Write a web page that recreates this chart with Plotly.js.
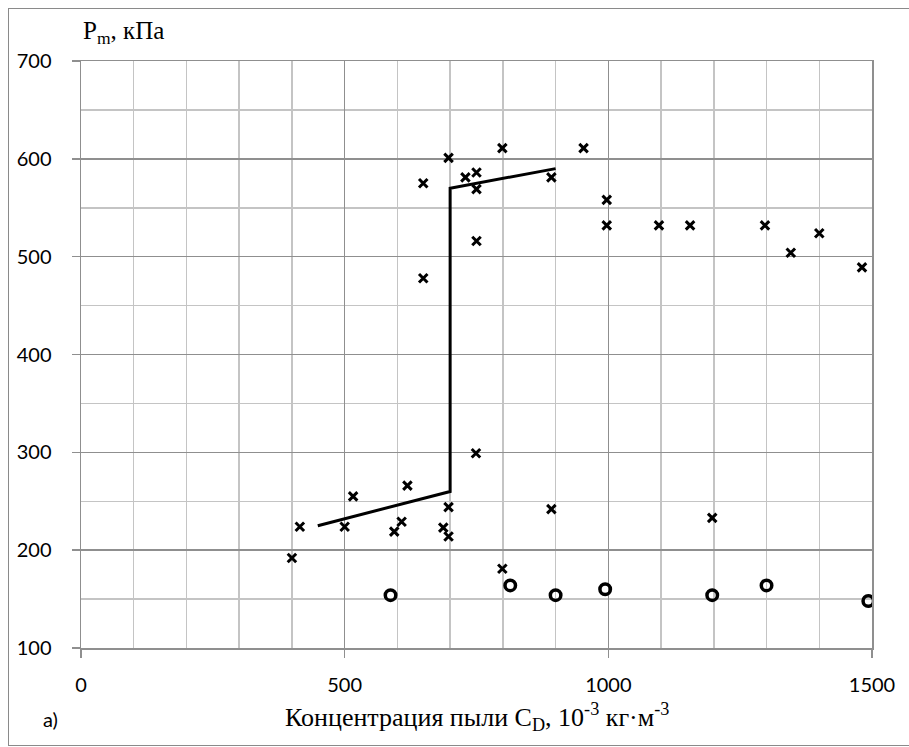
<!DOCTYPE html>
<html>
<head>
<meta charset="utf-8">
<script src="https://cdn.plot.ly/plotly-3.0.1.min.js"></script>
<style>
  html, body { margin: 0; padding: 0; background: #fff; }
  #wrap { position: relative; width: 909px; height: 747px; }
  #chart { position: absolute; left: 0; top: 0; width: 909px; height: 747px; }
  #frame { position: absolute; left: 8px; top: 8px; width: 902px; height: 738px; border: 1.5px solid #8a8a8a; box-sizing: border-box; pointer-events: none; }
</style>
</head>
<body>
<div id="wrap">
  <div id="chart"></div>
  <div id="frame"></div>
</div>
<script>
// Cross markers (experimental points)
var crossX = [400, 415, 500, 516, 594, 608, 619, 687, 697, 697, 749, 799, 892,
              649, 697, 729, 750, 750, 799, 892, 953, 750, 649,
              997, 997, 1096, 1155, 1297, 1346, 1400, 1481, 1197];
var crossY = [192, 224, 224, 255, 219, 229, 266, 223, 244, 214, 299, 181, 242,
              575, 601, 581, 586, 569, 611, 581, 611, 516, 478,
              558, 532, 532, 532, 532, 504, 524, 489, 233];
// Circle markers
var circleX = [587, 814, 900, 994, 1197, 1300, 1493];
var circleY = [154, 164, 154, 160, 154, 164, 148];
// Trend line
var lineX = [449, 700, 700, 900];
var lineY = [225, 260, 570, 590];

var xTicks = [0, 500, 1000, 1500];
var yTicks = [100, 200, 300, 400, 500, 600, 700];

var traces = [
  { x: lineX, y: lineY, mode: 'lines', type: 'scatter',
    line: { color: '#000', width: 3 }, hoverinfo: 'skip', showlegend: false },
  { x: crossX, y: crossY, mode: 'markers', type: 'scatter',
    marker: { symbol: 'x-thin', size: 8.5, color: '#000', line: { color: '#000', width: 3 } },
    showlegend: false },
  { x: circleX, y: circleY, mode: 'markers', type: 'scatter',
    marker: { symbol: 'circle-open', size: 10.5, color: '#000', line: { color: '#000', width: 3.5 } },
    showlegend: false }
];

var tickFont = { family: 'Lato, "Open Sans", sans-serif', size: 20, color: '#000' };
var serif = '"Liberation Serif", "DejaVu Serif", serif';

var layout = {
  width: 909, height: 747,
  margin: { l: 81, r: 37, t: 61, b: 99 },
  paper_bgcolor: '#fff', plot_bgcolor: '#fff',
  showlegend: false,
  xaxis: {
    range: [0, 1500], tickvals: xTicks, ticktext: xTicks.map(String),
    showgrid: true, gridcolor: '#8f8f8f', gridwidth: 1.5,
    minor: { dtick: 100, tick0: 0, showgrid: true, gridcolor: '#c4c4c4', gridwidth: 1.5 },
    showline: true, linecolor: '#8f8f8f', linewidth: 1.5, mirror: true,
    ticks: 'outside', ticklen: 8, tickwidth: 1.5, tickcolor: '#8f8f8f',
    ticklabelstandoff: 10,
    tickfont: tickFont, zeroline: false, fixedrange: true
  },
  yaxis: {
    range: [100, 700], tickvals: yTicks, ticktext: yTicks.map(String),
    showgrid: true, gridcolor: '#8f8f8f', gridwidth: 1.5,
    minor: { dtick: 50, tick0: 100, showgrid: true, gridcolor: '#c4c4c4', gridwidth: 1.5 },
    showline: true, linecolor: '#8f8f8f', linewidth: 1.5, mirror: true,
    ticks: 'outside', ticklen: 8, tickwidth: 1.5, tickcolor: '#8f8f8f',
    ticklabelstandoff: 16,
    tickfont: tickFont, zeroline: false, fixedrange: true
  },
  annotations: [
    { text: 'P<sub>m</sub>, кПа', xref: 'paper', yref: 'paper',
      x: 0.0, y: (648 - 33) / 587, xanchor: 'left', yanchor: 'middle',
      showarrow: false, font: { family: serif, size: 25, color: '#000' } },
    { text: 'Концентрация пыли C<sub>D</sub>, 10<sup>-3</sup> кг·м<sup>-3</sup>',
      xref: 'paper', yref: 'paper',
      x: (477 - 81) / 791, y: (648 - 717) / 587, xanchor: 'center', yanchor: 'middle',
      showarrow: false, font: { family: serif, size: 26, color: '#000' } },
    { text: 'a)', xref: 'paper', yref: 'paper',
      x: (50 - 81) / 791, y: (648 - 719) / 587, xanchor: 'center', yanchor: 'middle',
      showarrow: false, font: tickFont }
  ]
};

Plotly.newPlot('chart', traces, layout, { displayModeBar: false, staticPlot: true });
</script>
</body>
</html>
